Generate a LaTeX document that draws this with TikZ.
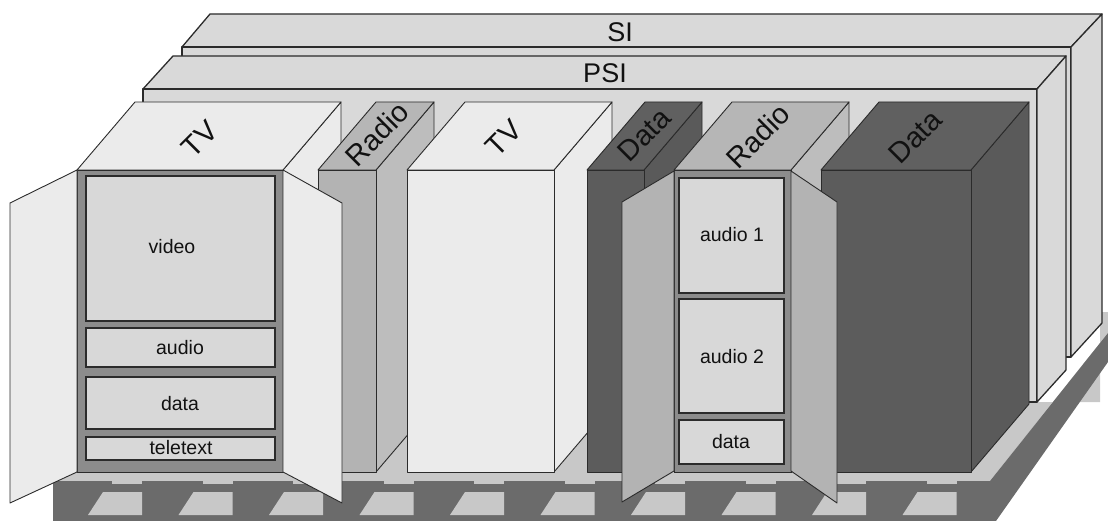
\documentclass[tikz,border=0pt]{standalone}
\usepackage{fontspec}
\setmainfont{Liberation Sans}
\definecolor{slab}{HTML}{D9D9D9}
\definecolor{tvc}{HTML}{EBEBEB}
\definecolor{radc}{HTML}{B3B3B3}
\definecolor{radtop}{HTML}{B6B6B6}
\definecolor{radside}{HTML}{BDBDBD}
\definecolor{datc}{HTML}{5C5C5C}
\definecolor{dattop}{HTML}{606060}
\definecolor{datside}{HTML}{5A5A5A}
\definecolor{framec}{HTML}{8C8C8C}
\definecolor{comp}{HTML}{D8D8D8}
\definecolor{pal}{HTML}{6B6B6B}
\definecolor{paltop}{HTML}{C8C8C8}
\definecolor{ln}{HTML}{2B2B2B}
\definecolor{txt}{HTML}{111111}
\tikzset{
  edge/.style={draw=ln, line width=0.9pt, line join=round},
  slabedge/.style={draw=ln, line width=1.3pt, line join=round},
  boxlab/.style={font=\fontsize{29}{32}\selectfont, rotate=45, inner sep=0pt, text=txt},
  slablab/.style={font=\fontsize{27}{30}\selectfont, inner sep=0pt, text=txt},
  complab/.style={font=\fontsize{19.5}{22}\selectfont, inner sep=0pt, text=txt},
  compbox/.style={draw=ln, line width=1.3pt, fill=comp},
}
\newcommand\mkbox[5]{%
  \path[edge, fill=#5] (#2,170) -- (#2+58,102) -- (#2+58,404) -- (#2,472) -- cycle;
  \path[edge, fill=#4] (#1,170) -- (#1+58,102) -- (#2+58,102) -- (#2,170) -- cycle;
  \path[edge, fill=#3] (#1,170) rectangle (#2,472);
}
\begin{document}
\begin{tikzpicture}[x=1pt,y=-1pt]
\useasboundingbox (0,0) rectangle (1108,521);
% pallet top surface
\fill[paltop] (53,402) -- (53,481) -- (990,481) -- (1108,333) -- (1108,312) -- (1100,312) -- (1100,402) -- cycle;
% pallet front and right faces
\fill[pal] (53,481) -- (990,481) -- (1108,333) -- (1108,362) -- (996,521) -- (53,521) -- cycle;
\foreach \i in {0,...,9}{
  \fill[paltop] ({88+90.5*\i},515) -- ({103+90.5*\i},492) -- ({142+90.5*\i},492) -- ({142+90.5*\i},515) -- cycle;
  \fill[paltop] ({112+90.5*\i},480) rectangle ({142+90.5*\i},484);
}
% SI slab
\path[slabedge, fill=slab] (182,47) -- (210,14) -- (1102,14) -- (1071,47) -- cycle;
\path[slabedge, fill=slab] (182,47) rectangle (1071,357);
\path[slabedge, fill=slab] (1071,47) -- (1102,14) -- (1102,323) -- (1071,357) -- cycle;
% PSI slab
\path[slabedge, fill=slab] (143,89) -- (173,56) -- (1066,56) -- (1037,89) -- cycle;
\path[slabedge, fill=slab] (143,89) rectangle (1037,402);
\path[slabedge, fill=slab] (1037,89) -- (1066,56) -- (1066,370) -- (1037,402) -- cycle;
% boxes
\mkbox{77}{283}{tvc}{tvc}{tvc}
\mkbox{318}{376}{radc}{radtop}{radside}
\mkbox{407}{554}{tvc}{tvc}{tvc}
\mkbox{587}{644}{datc}{dattop}{datside}
\mkbox{674}{791}{radc}{radtop}{radside}
\mkbox{821}{971}{datc}{dattop}{datside}
% TV cabinet interior
\path[edge, fill=framec] (77,170) rectangle (283,472);
\path[compbox] (86,176) rectangle (275,321);
\path[compbox] (86,328) rectangle (275,367);
\path[compbox] (86,377) rectangle (275,429);
\path[compbox] (86,437) rectangle (275,460);
% Radio cabinet interior
\path[edge, fill=framec] (674,170) rectangle (791,472);
\path[compbox] (679,178) rectangle (784,293);
\path[compbox] (679,299) rectangle (784,413);
\path[compbox] (679,420) rectangle (784,464);
% doors
\path[edge, fill=tvc] (77,170) -- (10,203) -- (10,503) -- (77,472) -- cycle;
\path[edge, fill=tvc] (283,170) -- (342,203) -- (342,503) -- (283,472) -- cycle;
\path[edge, fill=radc] (674,171) -- (622,202) -- (622,502) -- (674,471) -- cycle;
\path[edge, fill=radc] (791,171) -- (837,202) -- (837,503) -- (791,471) -- cycle;
% labels
\node[slablab] (si) at (620,32) {SI};
\node[slablab] (psi) at (605,73) {PSI};
\node[boxlab] (tva) at (200,139) {TV};
\node[boxlab] (radioa) at (377,134) {Radio};
\node[boxlab] (tvb) at (504,138) {TV};
\node[boxlab] (dataa) at (644,135) {Data};
\node[boxlab] (radiob) at (758,136) {Radio};
\node[boxlab] (datab) at (915,137) {Data};
\node[complab] (video) at (172,247) {video};
\node[complab] (audio) at (180,348) {audio};
\node[complab] (datatv) at (180,404) {data};
\node[complab] (teletext) at (181,448) {teletext};
\node[complab] (audioa) at (732,235) {audio 1};
\node[complab] (audiob) at (732,357) {audio 2};
\node[complab] (dataradio) at (731,442) {data};
\end{tikzpicture}
\end{document}
